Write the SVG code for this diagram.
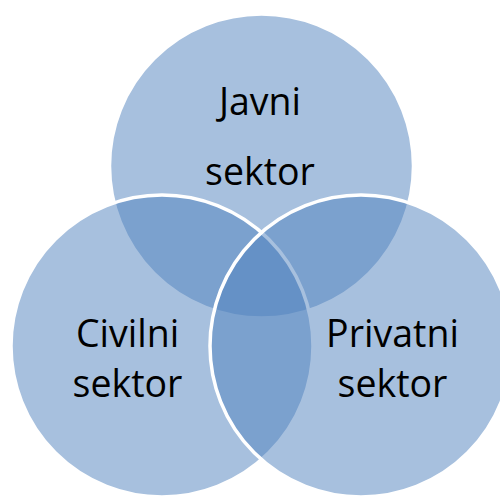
<svg xmlns="http://www.w3.org/2000/svg" width="500" height="498" viewBox="0 0 500 498">
<style>
.c{fill:#4F81BD;fill-opacity:0.5;stroke:#fff;stroke-width:3.5}
.t{font-family:"Open Sans","Liberation Sans",sans-serif;font-size:37.5px;fill:#000;text-anchor:middle}
</style>
<rect width="500" height="498" fill="#fff"/>
<g id="javni"><circle class="c" cx="261.5" cy="166" r="152"/></g>
<g id="civilni"><circle class="c" cx="162" cy="346" r="151"/></g>
<g id="privatni"><circle class="c" cx="361" cy="346" r="151"/></g>
<g id="connectors"/>
<g id="labels">
<text class="t" x="260" y="115">Javni</text>
<text class="t" x="260" y="185">sektor</text>
<text class="t" x="127.5" y="347">Civilni</text>
<text class="t" x="127.5" y="397">sektor</text>
<text class="t" x="392.5" y="347">Privatni</text>
<text class="t" x="392.5" y="397">sektor</text>
</g>
</svg>
